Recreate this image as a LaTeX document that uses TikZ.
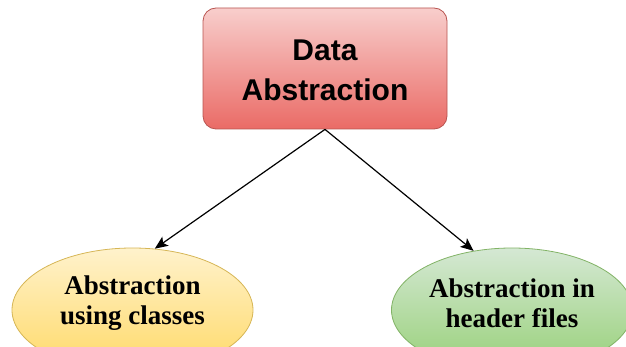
\documentclass[tikz,border=0pt]{standalone}
\usepackage{fontspec}
\newfontfamily\arialb{Liberation Sans}
\newfontfamily\timesb{Liberation Serif}
\usetikzlibrary{arrows.meta,shadings,shapes.geometric}
\definecolor{redtop}{HTML}{F8CECC}
\definecolor{redbot}{HTML}{EA6B66}
\definecolor{redline}{HTML}{B85450}
\definecolor{yeltop}{HTML}{FFF2CC}
\definecolor{yelbot}{HTML}{FFD966}
\definecolor{yelline}{HTML}{D6B656}
\definecolor{grntop}{HTML}{D5E8D4}
\definecolor{grnbot}{HTML}{97D077}
\definecolor{grnline}{HTML}{82B366}
\tikzset{
  topbox/.style={draw=redline, line width=0.8pt, rounded corners=13pt, top color=redtop, bottom color=redbot, minimum width=244pt, minimum height=121pt},
  ellbox/.style={ellipse, line width=0.8pt, minimum width=241pt, minimum height=124pt, inner sep=0pt},
  yelell/.style={ellbox, draw=yelline, top color=yeltop, bottom color=yelbot},
  grnell/.style={ellbox, draw=grnline, top color=grntop, bottom color=grnbot},
  toptext/.style={align=center, font=\arialb\bfseries\fontsize{30}{40}\selectfont, inner sep=0pt},
  elltext/.style={align=center, font=\timesb\bfseries\fontsize{27}{30}\selectfont, inner sep=0pt},
  conn/.style={-{Stealth[length=13pt,width=11pt,inset=3pt]}, line width=1.2pt, black}
}
\begin{document}
\begin{tikzpicture}[x=1pt,y=-1pt]
\useasboundingbox (0,0) rectangle (626,347);
\begin{scope}
\clip (0,0) rectangle (626,347);
\node[topbox] (top) at (325,68.5) {};
\node[toptext] (toplabel) at (325,70) {Data\\Abstraction};
\node[yelell] (ell1) at (132.5,310) {};
\node[elltext] (l1) at (132.5,303) {Abstraction\\using classes};
\node[grnell] (ell2) at (512,310) {};
\node[elltext] (l2) at (512,303) {Abstraction in\\header files};
\end{scope}
\draw[conn] (top.south) -- (ell1.70);
\draw[conn] (top.south) -- (ell2.123);
\end{tikzpicture}
\end{document}
